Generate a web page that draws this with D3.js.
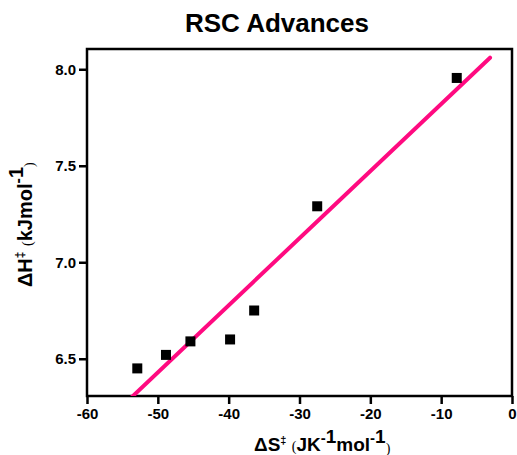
<!DOCTYPE html>
<html>
<head>
<meta charset="utf-8">
<script src="https://cdn.jsdelivr.net/npm/d3@7"></script>
<style>
  body { margin: 0; background: #fff; }
  svg { font-family: "Liberation Sans", Arial, sans-serif; }
</style>
</head>
<body>
<script>
// Data
const deltaS = [-52.9, -48.85, -45.4, -39.8, -36.4, -27.5, -7.8];
const deltaH = [6.45, 6.52, 6.59, 6.60, 6.75, 7.29, 7.955];
// fitted line end points
const fitS = [-54.0, -3.1];
const fitH = [6.29, 8.06];
const xTicks = [-60, -50, -40, -30, -20, -10, 0];
const yTicks = [6.5, 7.0, 7.5, 8.0];

const width = 517, height = 455;
const margin = {top: 49, right: 5, bottom: 59, left: 87};

const svg = d3.select("body").append("svg")
    .attr("width", width)
    .attr("height", height);

const x = d3.scaleLinear()
    .domain([-60, 0])
    .range([margin.left, width - margin.right]);

const y = d3.scaleLinear()
    .domain([6.307, 8.105])
    .range([height - margin.bottom, margin.top]);

// Title
svg.append("text")
    .attr("x", 277)
    .attr("y", 32)
    .attr("text-anchor", "middle")
    .style("font-size", "26px")
    .style("font-weight", "bold")
    .text("RSC Advances");

// Axes (plain hyphen for negatives, as in the original)
const xAxis = svg.append("g")
    .attr("transform", `translate(0,${height - margin.bottom})`)
    .call(d3.axisBottom(x).tickValues(xTicks).tickSize(8).tickPadding(4).tickFormat(d => String(d)));

const yAxis = svg.append("g")
    .attr("transform", `translate(${margin.left},0)`)
    .call(d3.axisLeft(y).tickValues(yTicks).tickSize(8).tickPadding(3).tickFormat(d => d.toFixed(1)));

[xAxis, yAxis].forEach(g => {
  g.select(".domain").remove();
  g.selectAll(".tick line").attr("stroke", "#000").attr("stroke-width", 2.5);
  g.selectAll(".tick text")
      .attr("fill", "#000")
      .style("font-size", "15px")
      .style("font-weight", "bold")
      .style("font-family", "'Liberation Sans', Arial, sans-serif");
});

// Frame
svg.append("rect")
    .attr("x", margin.left)
    .attr("y", margin.top)
    .attr("width", width - margin.left - margin.right)
    .attr("height", height - margin.top - margin.bottom)
    .attr("fill", "none")
    .attr("stroke", "#000")
    .attr("stroke-width", 2.5);

// Clip for fitted line
svg.append("clipPath").attr("id", "plotclip")
  .append("rect")
    .attr("x", margin.left)
    .attr("y", margin.top)
    .attr("width", width - margin.left - margin.right)
    .attr("height", height - margin.top - margin.bottom);

const line = d3.line()
    .x(d => x(d[0]))
    .y(d => y(d[1]));

svg.append("path")
    .datum(d3.zip(fitS, fitH))
    .attr("clip-path", "url(#plotclip)")
    .attr("fill", "none")
    .attr("stroke", "#ff0a80")
    .attr("stroke-width", 4)
    .attr("stroke-linecap", "round")
    .attr("d", line);

// Square markers
const s = 10;
svg.append("g")
  .selectAll("rect")
  .data(d3.zip(deltaS, deltaH))
  .join("rect")
    .attr("x", d => x(d[0]) - s / 2)
    .attr("y", d => y(d[1]) - s / 2)
    .attr("width", s)
    .attr("height", s)
    .attr("fill", "#000");

const paren = t => t.style("font-weight", "normal").style("font-size", "14px")
    .style("font-family", "'Liberation Serif', serif");

// X axis label
const xl = svg.append("text")
    .attr("x", 254)
    .attr("y", 451)
    .attr("text-anchor", "start")
    .style("font-size", "19px")
    .style("font-weight", "bold");
xl.append("tspan").text("ΔS");
xl.append("tspan").attr("dy", -7).style("font-size", "11px").text("‡");
xl.append("tspan").attr("dy", 7).text(" ");
xl.append("tspan").call(paren).text("(");
xl.append("tspan").text("JK");
xl.append("tspan").attr("dy", -8).style("font-size", "15px").text("-");
xl.append("tspan").text("1");
xl.append("tspan").attr("dy", 8).text("mol");
xl.append("tspan").attr("dy", -8).style("font-size", "15px").text("-");
xl.append("tspan").text("1");
xl.append("tspan").attr("dy", 10).call(paren).text(")");

// Y axis label
const yl = svg.append("text")
    .attr("transform", "translate(32,287) rotate(-90)")
    .attr("text-anchor", "start")
    .style("font-size", "20px")
    .style("font-weight", "bold");
yl.append("tspan").text("ΔH");
yl.append("tspan").attr("dy", -8).style("font-size", "12px").text("‡");
yl.append("tspan").attr("dy", 8).text(" ");
yl.append("tspan").call(paren).text("(");
yl.append("tspan").text("kJmol");
yl.append("tspan").attr("dy", -9).style("font-size", "16px").text("-");
yl.append("tspan").text("1");
yl.append("tspan").attr("dy", 11).call(paren).text(")");
</script>
</body>
</html>
